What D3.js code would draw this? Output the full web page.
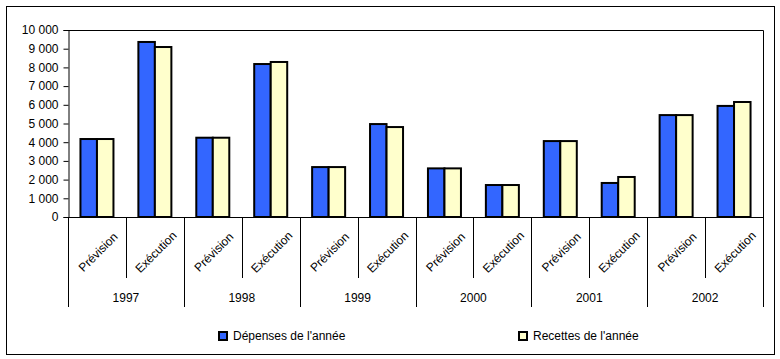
<!DOCTYPE html>
<html><head><meta charset="utf-8">
<script src="https://cdn.jsdelivr.net/npm/d3@7/dist/d3.min.js"></script>
<style>body{margin:0;background:#fff}svg{display:block}text{font-family:"Liberation Sans",Arial,sans-serif;font-size:12px;fill:#000}</style>
</head><body><svg id="c" width="780" height="359"></svg>
<script>
const years = ["1997","1998","1999","2000","2001","2002"];
const phases = ["Prévision","Exécution"];
const depenses = [4170,9360,4240,8180,2670,4970,2600,1710,4060,1820,5450,5940];
const recettes = [4170,9090,4240,8290,2670,4810,2600,1710,4060,2140,5450,6150];
const yTicks = [0,1000,2000,3000,4000,5000,6000,7000,8000,9000,10000];
const seriesNames = ["Dépenses de l'année","Recettes de l'année"];
const colors = ["#3366FF","#FFFFCC"];

const svg = d3.select("#c");
const L=68,R=763,T=30,B=217;
svg.append("rect").attr("x",6.5).attr("y",6.5).attr("width",768).attr("height",348).attr("fill","none").attr("stroke","#000");

const cats = [];
years.forEach(y=>phases.forEach(p=>cats.push(y+"|"+p)));
const x = d3.scaleBand().domain(cats).range([L,R]);
const xi = d3.scaleBand().domain([0,1]).range([0,33]);
const y = d3.scaleLinear().domain([0,10000]).range([B,T]);

// plot frame
svg.append("path").attr("d",`M${L+0.5},${T+0.5}H${R+0.5}V${B}`).attr("fill","none").attr("stroke","#000");

// y axis
const ya = svg.append("g").attr("transform",`translate(${L+0.5},0)`)
 .call(d3.axisLeft(y).tickValues(yTicks).tickSize(5).tickPadding(5).tickFormat(d=>d3.format(",")(d).replace(/,/g," ")));
ya.select(".domain").attr("stroke","#000");
ya.selectAll("text").style("font-size","12px").style("font-family",'"Liberation Sans",Arial,sans-serif');

// bars
cats.forEach((c,i)=>{
  const g = svg.append("g").attr("transform",`translate(${x(c)+x.bandwidth()/2-16.5},0)`);
  [depenses[i],recettes[i]].forEach((v,j)=>{
    g.append("rect").attr("x",xi(j)).attr("y",y(v)).attr("width",xi.bandwidth()).attr("height",B-y(v))
     .attr("fill",colors[j]).attr("stroke","#000").attr("stroke-width",2);
  });
});

// category axis
svg.append("line").attr("x1",L).attr("x2",R+1).attr("y1",B+0.5).attr("y2",B+0.5).attr("stroke","#000");
cats.forEach((c,i)=>{
  const xx = Math.round(x(c))+0.5;
  const long = i%2===0;
  svg.append("line").attr("x1",xx).attr("x2",xx).attr("y1",B).attr("y2",long?307:278).attr("stroke","#000");
  const cx = x(c)+x.bandwidth()/2;
  svg.append("text").attr("transform",`translate(${cx+1},${252}) rotate(-45)`).attr("text-anchor","middle").attr("dy","0.35em").text(c.split("|")[1]);
});
svg.append("line").attr("x1",R+0.5).attr("x2",R+0.5).attr("y1",B).attr("y2",307).attr("stroke","#000");
years.forEach((yr,k)=>{
  const cx = x(yr+"|"+phases[0]) + x.bandwidth();
  svg.append("text").attr("x",cx).attr("y",298).attr("dy","0.35em").attr("text-anchor","middle").text(yr);
});

// legend
const lx=[219,519];
seriesNames.forEach((n,j)=>{
  svg.append("rect").attr("x",lx[j]).attr("y",332).attr("width",8).attr("height",8).attr("fill",colors[j]).attr("stroke","#000").attr("stroke-width",2);
  svg.append("text").attr("x",lx[j]+14).attr("y",336).attr("dy","0.35em").text(n);
});
</script></body></html>
